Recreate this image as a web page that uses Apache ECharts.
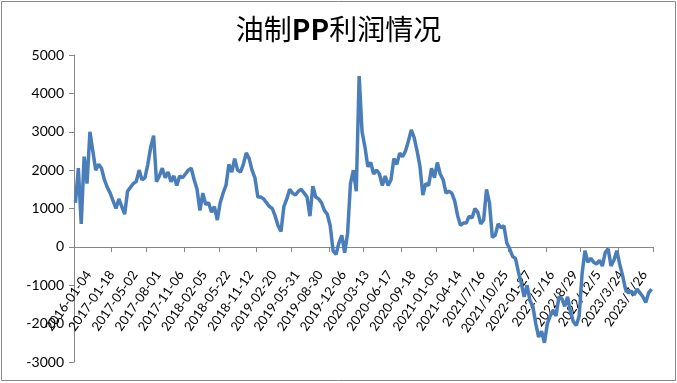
<!DOCTYPE html>
<html>
<head>
<meta charset="utf-8">
<script src="https://cdn.jsdelivr.net/npm/echarts@6/dist/echarts.min.js"></script>
<style>
html,body{margin:0;padding:0;background:#fff;}
#chart{width:677px;height:383px;}
</style>
</head>
<body>
<div id="chart"></div>
<script>
// Axis tick labels (every 8th category)
const tickLabels = ['2016-01-04','2017-01-18','2017-05-02','2017-08-01','2017-11-06','2018-02-05','2018-05-22','2018-11-12','2019-02-20','2019-05-31','2019-08-30','2019-12-06','2020-03-13','2020-06-17','2020-09-18','2021-01-05','2021-04-14','2021/7/16','2021/10/25','2022-01-27','2022/5/16','2022/8/29','2022/12/5','2023/3/24','2023/7/26'];

// Profit values (yuan/ton)
const profit2016to2017 = [1150,2050,600,2350,1650,3000,2500,2000,2150,2050,1750,1550,1400,1200,1000,1250,1050,850,1450,1550,1650,1700,2000,1750,1800,2150,2600,2900,1700,1850,2050,1800,1950,1700,1850,1600,1850,1800,1900,2000,2050,1750,1500,950,1400,1100,1150,900,1050,700];
const profit2018to2019 = [1150,1400,1600,2150,1950,2300,2000,1950,2150,2450,2300,2000,1800,1300,1300,1250,1150,1050,1000,800,550,400,1050,1250,1500,1400,1350,1450,1500,1400,1300,800,1580,1300,1250,1150,950,850,550,-100,-200,100,300,-150,350,1650,2000,1450,4450,3000];
const profit2020to2021 = [2600,2090,2200,1900,2000,1900,1600,1850,1600,1750,2300,2150,2440,2350,2500,2750,3050,2850,2500,2100,1350,1650,1600,2050,1800,2200,1900,1750,1400,1450,1400,1200,820,560,620,620,800,750,1000,900,600,700,1500,1150,250,300,600,500,550,100];
const profit2022to2023 = [-50,-250,-300,-650,-950,-1300,-1000,-1400,-1550,-2000,-2350,-2200,-2500,-2000,-1800,-1650,-1800,-1300,-1350,-1550,-1300,-1700,-1950,-2050,-1800,-700,-100,-400,-300,-400,-450,-350,-500,-150,-50,-500,-350,-100,-450,-750,-1100,-1200,-1150,-1250,-1100,-1200,-1300,-1450,-1200,-1100];

const profit = profit2016to2017.concat(profit2018to2019, profit2020to2021, profit2022to2023);
const LABEL_EVERY = 8;
const categories = profit.map(function (v, j) {
  const base = tickLabels[Math.floor(j / LABEL_EVERY)];
  return j % LABEL_EVERY === 0 ? base : base + '#' + (j % LABEL_EVERY);
});

const chart = echarts.init(document.getElementById('chart'));
chart.setOption({
  animation: false,
  backgroundColor: '#fff',
  title: {
    text: '{a|油制}{b|PP}{a|利润情况}',
    left: 'center',
    top: 10,
    textStyle: {
      rich: {
        a: { fontFamily: 'Noto Sans CJK SC', fontSize: 28, color: '#000', fontWeight: 'normal' },
        b: { fontFamily: 'Noto Sans CJK SC', fontSize: 28, color: '#000', fontWeight: 'bold' }
      }
    }
  },
  graphic: [{
    type: 'rect', silent: true,
    shape: { x: 1.5, y: 1.5, width: 674, height: 379 },
    style: { fill: 'none', stroke: '#888', lineWidth: 1 }
  }],
  grid: { left: 74, right: 24, top: 55, bottom: 21, containLabel: false, outerBoundsMode: 'none' },
  xAxis: {
    type: 'category',
    data: categories,
    boundaryGap: true,
    position: 'bottom',
    offset: -115,
    axisLine: { onZero: false, lineStyle: { color: '#868686', width: 1 } },
    axisTick: {
      show: true, length: 5, lineStyle: { color: '#868686' },
      interval: function (idx) { return (idx * 2) % 25 === 0 || (idx * 2) % 25 === 1; }
    },
    axisLabel: {
      interval: 0,
      rotate: 55,
      margin: 16,
      verticalAlign: 'top',
      lineHeight: 32,
      hideOverlap: false,
      fontFamily: 'Lato',
      fontSize: 13,
      color: '#000',
      formatter: function (v, idx) { return idx % LABEL_EVERY === 0 ? v : ''; }
    },
    splitLine: { show: false }
  },
  yAxis: {
    type: 'value',
    min: -3000, max: 5000, interval: 1000,
    axisLine: { show: true, lineStyle: { color: '#868686', width: 1 } },
    axisTick: { show: true, length: 5, lineStyle: { color: '#868686' } },
    axisLabel: { margin: 10, fontFamily: 'Lato', fontSize: 14, color: '#000', formatter: function (v) { return String(v); } },
    splitLine: { show: false }
  },
  series: [{
    type: 'line',
    data: profit,
    showSymbol: false,
    symbol: 'none',
    lineStyle: { color: '#4A7EBB', width: 3.5 },
    itemStyle: { color: '#4A7EBB' }
  }]
});
</script>
</body>
</html>
